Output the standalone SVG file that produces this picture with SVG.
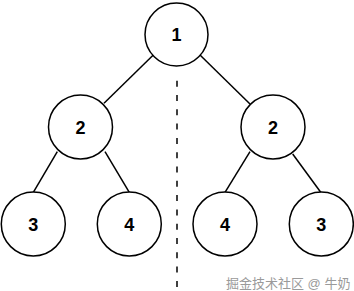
<svg xmlns="http://www.w3.org/2000/svg" width="354" height="291" viewBox="0 0 354 291">
<style>
.node circle{fill:#fff;stroke:#000;stroke-width:1.5}
.node text{font-family:"Liberation Sans",Arial,sans-serif;font-weight:bold;font-size:18px;text-anchor:middle;dominant-baseline:central;fill:#000}
#edges line{stroke:#000;stroke-width:1.5}
.wm{font-family:"Liberation Sans","Noto Sans CJK SC",sans-serif;font-size:13px;fill:#9a9a9a}
</style>
<rect width="354" height="291" fill="#fff"/>
<g id="edges">
<line x1="153.3" y1="55" x2="104" y2="103.3"/>
<line x1="200" y1="55" x2="250" y2="104"/>
<line x1="57.3" y1="151.7" x2="33.3" y2="192.3"/>
<line x1="105" y1="151.7" x2="129.3" y2="192.3"/>
<line x1="250" y1="151.7" x2="225" y2="192.3"/>
<line x1="292.7" y1="154" x2="320.7" y2="192.3"/>
<line x1="177" y1="80.7" x2="177" y2="291" stroke-width="2.2" stroke-dasharray="6 8.3"/>
</g>
<g id="n1" class="node"><circle cx="176.5" cy="34.5" r="31.5"/><text x="176.5" y="35">1</text></g>
<g id="n2l" class="node"><circle cx="80.5" cy="127" r="32"/><text x="80.5" y="128">2</text></g>
<g id="n2r" class="node"><circle cx="273" cy="127" r="32"/><text x="273" y="128">2</text></g>
<g id="n3l" class="node"><circle cx="33.3" cy="224" r="32"/><text x="33.3" y="225">3</text></g>
<g id="n4l" class="node"><circle cx="129.3" cy="224" r="32"/><text x="129.3" y="225">4</text></g>
<g id="n4r" class="node"><circle cx="225" cy="224" r="32"/><text x="225" y="225">4</text></g>
<g id="n3r" class="node"><circle cx="321.3" cy="224" r="32"/><text x="321.3" y="225">3</text></g>
<text class="wm" x="226" y="288">掘金技术社区 @ 牛奶</text>
</svg>
